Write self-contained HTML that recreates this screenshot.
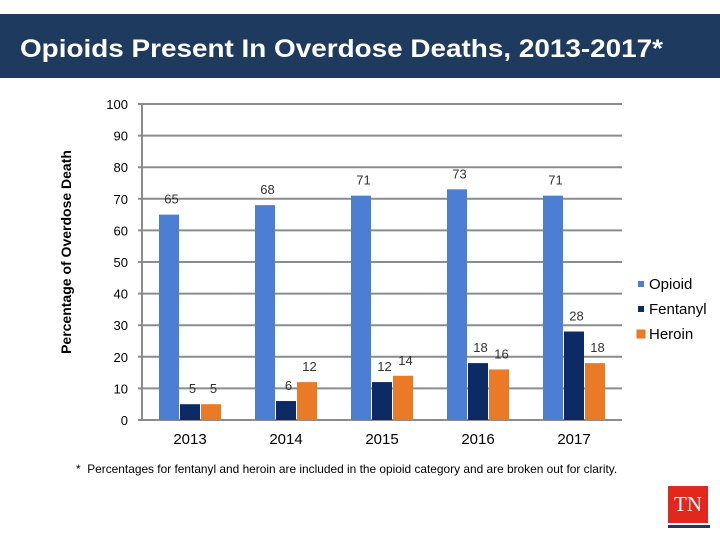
<!DOCTYPE html>
<html><head><meta charset="utf-8"><style>
body{margin:0;width:720px;height:540px;background:#fff;overflow:hidden;font-family:"Liberation Sans",sans-serif}
</style></head><body>
<div style="position:absolute;left:0;top:14px;width:720px;height:64px;background:#1f3a5f"></div>
<svg width="720" height="80" style="position:absolute;left:0;top:0"><text x="20" y="57" fill="#fff" font-weight="bold" font-size="25" textLength="643" lengthAdjust="spacingAndGlyphs">Opioids Present In Overdose Deaths, 2013-2017*</text></svg>
<svg id="c" width="720" height="540" style="position:absolute;left:0;top:0"></svg>
<div style="position:absolute;left:76px;top:462px;font-size:11.9px;color:#000">*&nbsp; Percentages for fentanyl and heroin are included in the opioid category and are broken out for clarity.</div>
<div style="position:absolute;left:668px;top:486px;width:40px;height:37px;background:#e0281e;color:#fff;font-family:'Liberation Serif',serif;font-size:21px;text-align:center;line-height:37px">TN</div>
<div style="position:absolute;left:668px;top:525px;width:42px;height:3px;background:#1f3a5f"></div>
<script>
const categories=["2013","2014","2015","2016","2017"];
const seriesNames=["Opioid","Fentanyl","Heroin"];
const opioid=[65,68,71,73,71];
const fentanyl=[5,6,12,18,28];
const heroin=[5,12,14,16,18];
const yTicks=[0,10,20,30,40,50,60,70,80,90,100];
const colors=["#4a7fd4","#0c2a63","#eb7a26"];
const svg=document.getElementById('c');
const NS="http://www.w3.org/2000/svg";
const x0=142,x1=622,y0=420,y1=104;
const y=v=>y0-(v/100)*(y0-y1);
const step=(x1-x0)/categories.length;
const xc=i=>x0+step*(i+0.5);
function mk(t,a){const e=document.createElementNS(NS,t);for(const k in a)e.setAttribute(k,a[k]);svg.appendChild(e);return e;}
yTicks.forEach(t=>{
 const g=mk('line',{x1:x0-4,x2:x1,y1:y(t),y2:y(t),stroke:'#8c8c8c','stroke-width':2});
 
 
 const l=mk('text',{x:128,y:y(t)+5,'text-anchor':'end','font-size':13,fill:'#000'});
 l.textContent=t;
 
 
});
const ax=mk('line',{x1:x0,x2:x0,y1:y1,y2:y0,stroke:'#8c8c8c','stroke-width':2});


const yt=mk('text',{x:0,y:0,transform:'translate(71,252) rotate(-90)','text-anchor':'middle','font-size':14,'font-weight':'bold',fill:'#000'});
yt.textContent='Percentage of Overdose Death';


const series=[opioid,fentanyl,heroin];
const bw=21;
categories.forEach((c,i)=>{
 series.forEach((s,k)=>{
  const bx=xc(i)-31+k*bw;
  const r=mk('rect',{x:bx,y:y(s[i]),width:bw-1,height:y0-y(s[i]),fill:colors[k]});
  
  
  const t=mk('text',{x:bx+bw/2+2,y:y(s[i])-11,'text-anchor':'middle','font-size':13,fill:'#333'});
  t.textContent=s[i];
  
  
 });
 const xl=mk('text',{x:xc(i),y:444,'text-anchor':'middle','font-size':15,fill:'#000'});
 xl.textContent=c;
 
 
});
seriesNames.forEach((n,k)=>{
 const sz=k==2?9:6;
 const ly=284+k*25;
 const m=mk('rect',{x:641-sz/2,y:ly-sz/2,width:sz,height:sz,fill:colors[k]});
 
 
 const t=mk('text',{x:649,y:ly+5,'font-size':15,fill:'#000'});
 t.textContent=n;
 
 
});
</script>
</body></html>
